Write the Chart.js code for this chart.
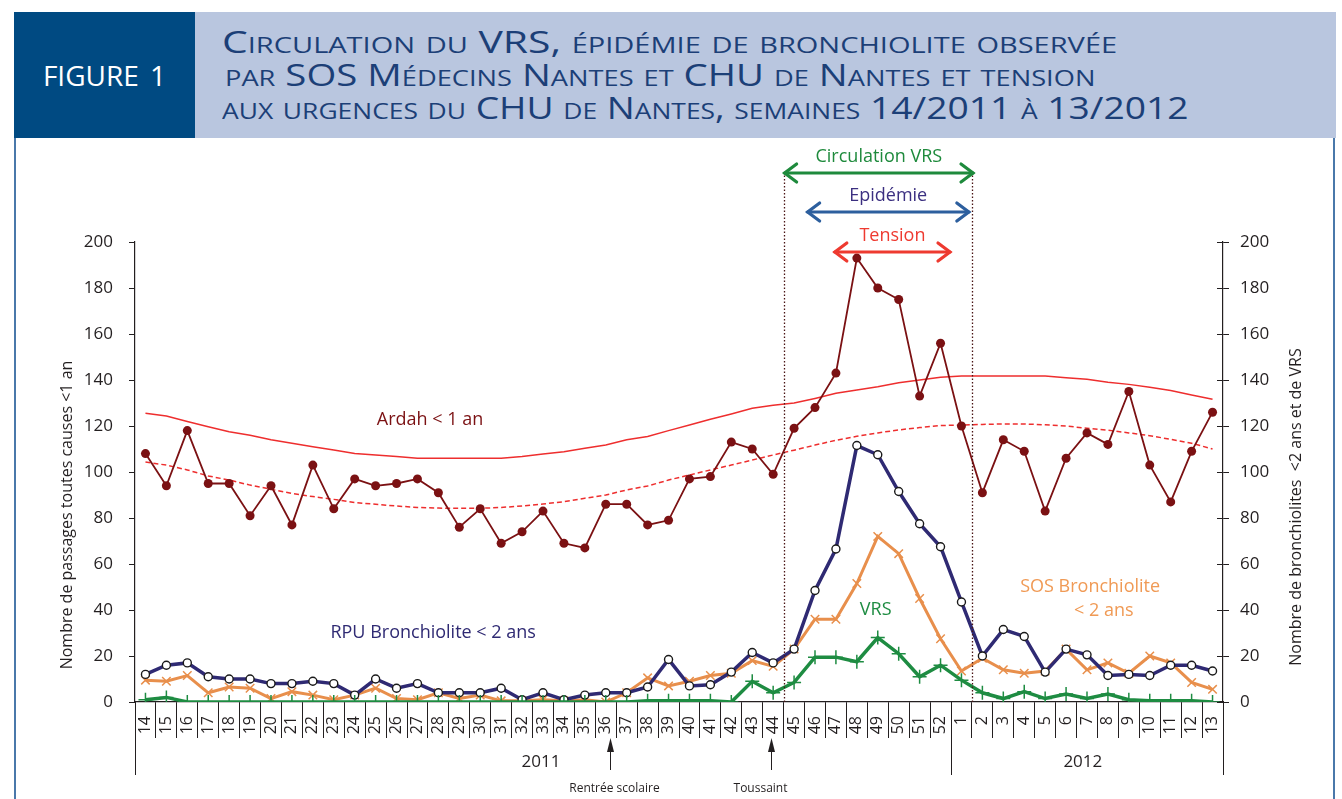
<!DOCTYPE html>
<html>
<head>
<meta charset="utf-8">
<script src="https://cdn.jsdelivr.net/npm/chart.js@4.4.1/dist/chart.umd.min.js"></script>
<style>
  body { margin: 0; width: 1342px; height: 799px; overflow: hidden; position: relative; background: #fff; font-family: 'Open Sans', sans-serif; }
  #chart { position: absolute; left: 0; top: 0; }
  .fig { position: absolute; left: 14px; top: 12px; width: 181px; height: 126px; background: #004a82; color: #fff;
         font-size: 28px; display: flex; align-items: center; justify-content: center; word-spacing: 4px; }
  .band { position: absolute; left: 195px; top: 12px; width: 1141px; height: 126px; background: #b9c6df; }
  .t { position: absolute; white-space: nowrap; font-variant: small-caps; color: #1c3f77; font-size: 31px;
       line-height: 1; transform-origin: 0 0; }
  .frame { position: absolute; top: 138px; height: 661px; width: 2px; background: #4a78aa; }
</style>
</head>
<body>
<canvas id="chart" width="1342" height="799"></canvas>
<div class="fig">FIGURE 1</div>
<div class="band"></div>
<div class="t" id="t1" style="left:222px;top:26px">Circulation du VRS, épidémie de bronchiolite observée</div>
<div class="t" id="t2" style="left:225px;top:59px">par SOS Médecins Nantes et CHU de Nantes et tension</div>
<div class="t" id="t3" style="left:222px;top:92px">aux urgences du CHU de Nantes, semaines 14/2011 à 13/2012</div>
<div class="frame" style="left:14px"></div>
<div class="frame" style="left:1333px"></div>
<script>
// semaines 14/2011 -> 13/2012
const weeks = ['14','15','16','17','18','19','20','21','22','23','24','25','26','27','28','29','30','31','32','33',
  '34','35','36','37','38','39','40','41','42','43','44','45','46','47','48','49','50','51','52',
  '1','2','3','4','5','6','7','8','9','10','11','12','13'];

// Ardah < 1 an (passages toutes causes)
const ardah = [108,94,118,95,95,81,94,77,103,84,97,94,95,97,91,76,84,69,74,83,
  69,67,86,86,77,79,97,98,113,110,99,119,128,143,193,180,175,133,156,
  120,91,114,109,83,106,117,112,135,103,87,109,126];

// seuils (trait plein / pointillés)
const seuilHaut = [125.5,124.3,122,119.7,117.5,116,114,112.5,111,109.6,108,107.4,106.7,106,106,106,106,106,106.7,107.8,
  108.8,110.3,111.7,114,115.4,118,120.4,122.9,125.2,127.7,129,130,132,134.2,135.7,137.1,138.8,140,141.2,
  141.7,141.7,141.7,141.7,141.7,141,140.3,139,138.1,136.8,135.4,133.5,131.6];
const seuilBas = [104.3,103,100.9,98.3,96.5,94.3,92.5,90.7,89.3,88.1,86.7,86,85.2,84.6,84.3,84.2,84.2,84.6,85.2,86.1,
  87.1,88.6,90,92.2,93.9,96.5,98.7,100.9,103,105.2,107.4,109.5,111.7,113.8,115.5,117,118.3,119.3,120.2,
  120.4,120.7,120.9,120.9,120.5,120,119,118.2,117,115.8,114.2,112.5,110];

// RPU Bronchiolite < 2 ans
const rpu = [12,16,17,11,10,10,8,8,9,8,3,10,6,8,4,4,4,6,1,4,
  1,3,4,4,6.5,18.5,7,7.5,13,21.5,17,23,48.5,66.5,111.5,107.5,91.5,77.5,67.5,
  43.5,20,31.5,28.5,13,23,20.5,11.5,12,11.5,16,16,13.5];

// SOS Bronchiolite < 2 ans
const sos = [9.5,9,11.5,4,6.5,6,1.5,4.5,3,1,3,6,1.5,1,4,1.5,3,0.5,0.5,1,
  0.5,1,0,4,10.5,7,9,11.5,12.5,18,15.5,23,36,36,51.5,72,64.5,45,27.5,
  13.5,19,14,12.5,13.5,23,14,17,12.5,20,17,8.5,5.5];

// VRS
const vrs = [1,2,0,0,0,0,0,0,0,0,0,0,0,0,0,0,0,0,0,0,
  0,0,0,0,0.5,0.5,0.5,0.5,0,9,4,8.5,19.5,19.5,17.5,28,21,11,16,
  9.5,4,1.5,4.5,1.5,3.5,1.5,3.5,1,0.5,0.5,0.5,0];

const yTicksMax = 200;

const FONT = "'Open Sans', sans-serif";
const INK = '#231f20';

// periods drawn above the plot (category index positions)
const periods = [
  { text: 'Circulation VRS', from: 30.5, to: 39.6, y: 173, color: '#1e8a3c', textColor: '#1e8a3c' },
  { text: 'Epidémie', from: 31.6, to: 39.4, y: 212, color: '#2d5f9e', textColor: '#3b2f80' },
  { text: 'Tension', from: 32.9, to: 38.5, y: 252, color: '#ee3a30', textColor: '#ee3a30' }
];

const overlay = {
  id: 'overlay',
  afterDraw(chart) {
    const { ctx, chartArea: a } = chart;
    const x = chart.scales.x, y = chart.scales.y;
    const px = v => x.getPixelForValue(v);
    ctx.save();

    // right axis: inner half of tick marks
    ctx.strokeStyle = INK; ctx.lineWidth = 1;
    for (let v = 0; v <= yTicksMax; v += 20) {
      const yy = Math.round(y.getPixelForValue(v)) + 0.5;
      ctx.beginPath(); ctx.moveTo(a.right - 6, yy); ctx.lineTo(a.right, yy); ctx.stroke();
    }

    // long separators under the axis
    [a.left, px(38.5), a.right].forEach(xx => {
      xx = Math.round(xx) + 0.5;
      ctx.beginPath(); ctx.moveTo(xx, a.bottom); ctx.lineTo(xx, 775); ctx.stroke();
    });

    // years
    ctx.fillStyle = INK; ctx.font = `17px ${FONT}`; ctx.textAlign = 'center'; ctx.textBaseline = 'middle';
    ctx.fillText('2011', px(18.9), 762);
    ctx.fillText('2012', px(44.8), 762);

    // event arrows
    ctx.font = `12px ${FONT}`;
    [{ i: 22.2, t: 'Rentrée scolaire', dx: 4 }, { i: 29.9, t: 'Toussaint', dx: -11 }].forEach(e => {
      const xx = Math.round(px(e.i)) + 0.5;
      ctx.beginPath(); ctx.moveTo(xx, 770); ctx.lineTo(xx, 748); ctx.stroke();
      ctx.beginPath(); ctx.moveTo(xx, 738); ctx.lineTo(xx - 3.5, 752); ctx.lineTo(xx + 3.5, 752); ctx.closePath(); ctx.fill();
      ctx.fillText(e.t, xx + e.dx, 789);
    });

    // dotted period limits
    ctx.strokeStyle = '#4a1414'; ctx.lineWidth = 1.3; ctx.setLineDash([1.5, 2]);
    [30.5, 39.5].forEach(i => {
      const xx = Math.round(px(i)) + 0.5;
      ctx.beginPath(); ctx.moveTo(xx, 172); ctx.lineTo(xx, a.bottom); ctx.stroke();
    });
    ctx.setLineDash([]);

    // double arrows
    periods.forEach(p => {
      const x0 = px(p.from), x1 = px(p.to);
      ctx.strokeStyle = p.color; ctx.lineWidth = 3.2; ctx.lineCap = 'round';
      ctx.beginPath(); ctx.moveTo(x0 + 1, p.y); ctx.lineTo(x1 - 1, p.y); ctx.stroke();
      ctx.beginPath();
      ctx.moveTo(x0 + 13, p.y - 9); ctx.lineTo(x0 + 1, p.y); ctx.lineTo(x0 + 13, p.y + 9);
      ctx.moveTo(x1 - 13, p.y - 9); ctx.lineTo(x1 - 1, p.y); ctx.lineTo(x1 - 13, p.y + 9);
      ctx.stroke();
      ctx.fillStyle = p.textColor; ctx.font = `18px ${FONT}`; ctx.textAlign = 'center';
      ctx.fillText(p.text, (x0 + x1) / 2, p.y - 16);
    });

    // series labels
    const lab = (t, i, v, c) => { ctx.fillStyle = c; ctx.fillText(t, px(i), y.getPixelForValue(v)); };
    ctx.font = `18px ${FONT}`; ctx.textAlign = 'center';
    lab('Ardah < 1 an', 13.6, 122.6, '#7b1113');
    lab('RPU Bronchiolite < 2 ans', 13.75, 30, '#2f2a73');
    lab('VRS', 34.9, 40, '#1e8c42');
    lab('SOS Bronchiolite', 45.15, 50.2, '#f09a55');
    lab('< 2 ans', 45.8, 39.8, '#f09a55');

    // axis titles
    ctx.fillStyle = INK; ctx.font = `16px ${FONT}`;
    ctx.save(); ctx.translate(67, 515); ctx.rotate(-Math.PI / 2);
    ctx.fillText('Nombre de passages toutes causes <1 an', 0, 0); ctx.restore();
    ctx.save(); ctx.translate(1296, 507); ctx.rotate(-Math.PI / 2);
    ctx.fillText('Nombre de bronchiolites  <2 ans et de VRS', 0, 0); ctx.restore();

    ctx.restore();
  }
};

const yAxis = (pos, w, pad) => ({
  position: pos, min: 0, max: yTicksMax,
  ticks: { stepSize: 20, color: INK, padding: pad, font: { family: FONT, size: 17 } },
  grid: { drawOnChartArea: false, tickLength: 6, color: INK },
  border: { color: INK, width: 1.2 },
  afterFit: s => { s.width = w; }
});

new Chart(document.getElementById('chart'), {
  type: 'line',
  data: {
    labels: weeks,
    datasets: [
      { label: 'VRS', data: vrs, yAxisID: 'y2', borderColor: '#1e8c42', borderWidth: 3.5,
        pointStyle: 'cross', pointRadius: 7, pointBorderColor: '#1e8c42', pointBorderWidth: 1.5 },
      { label: 'RPU', data: rpu, yAxisID: 'y2', borderColor: '#2f2a73', borderWidth: 3.5,
        pointRadius: 4, pointBackgroundColor: '#fff', pointBorderColor: '#1a1a1a', pointBorderWidth: 1.4 },
      { label: 'SOS', data: sos, yAxisID: 'y2', borderColor: '#e88f4c', borderWidth: 3,
        pointStyle: 'crossRot', pointRadius: 6, pointBorderColor: '#e88f4c', pointBorderWidth: 1.5 },
      { label: 'Ardah', data: ardah, yAxisID: 'y', borderColor: '#7b1113', borderWidth: 1.8,
        pointRadius: 4.5, pointBackgroundColor: '#7b1113', pointBorderColor: '#7b1113', pointBorderWidth: 0 },
      { label: 'Seuil haut', data: seuilHaut, yAxisID: 'y', borderColor: '#ee2e2e', borderWidth: 1.5, pointRadius: 0 },
      { label: 'Seuil bas', data: seuilBas, yAxisID: 'y', borderColor: '#ee2e2e', borderWidth: 1.5,
        borderDash: [5, 3], pointRadius: 0 }
    ]
  },
  options: {
    responsive: false, animation: false, devicePixelRatio: 1,
    layout: { padding: { top: 242, left: 0, right: 0, bottom: 0 } },
    plugins: { legend: { display: false }, tooltip: { enabled: false } },
    scales: {
      x: {
        offset: true,
        grid: { offset: true, drawOnChartArea: false, tickLength: 36, color: INK },
        border: { color: INK, width: 1.2 },
        ticks: { autoSkip: false, minRotation: 90, maxRotation: 90, padding: -22, color: INK,
                 font: { family: FONT, size: 16 } },
        afterFit: s => { s.height = 97; }
      },
      y: yAxis('left', 135, 16),
      y2: yAxis('right', 119, 11)
    }
  },
  plugins: [overlay]
});

// title lines: condensed to the reference widths
const fitTitle = () => {
  [['t1', 895], ['t2', 870], ['t3', 966]].forEach(([id, w]) => {
    const el = document.getElementById(id);
    el.style.transform = 'none';
    el.style.transform = `scaleX(${w / el.offsetWidth})`;
  });
};
fitTitle();
document.fonts.ready.then(fitTitle);
</script>
</body>
</html>
